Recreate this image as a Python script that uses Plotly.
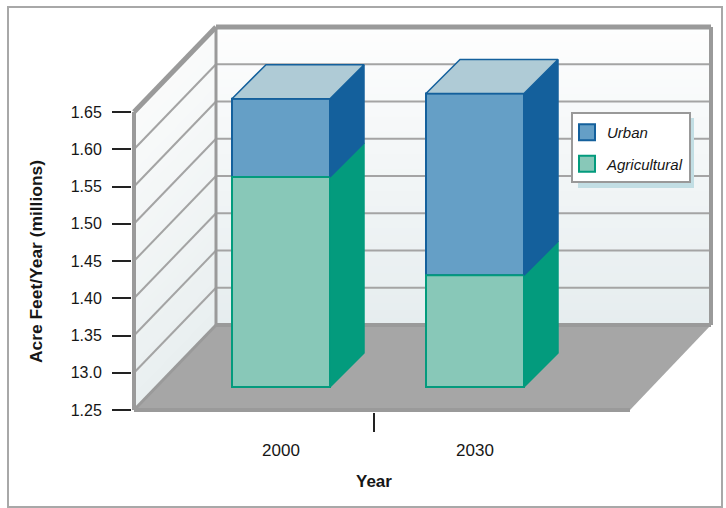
import plotly.graph_objects as go

# ---- data ----
years = ["2000", "2030"]
agricultural = [0.282, 0.150]   # height above the 1.25 baseline (millions)
urban = [0.105, 0.244]
tick_values = [1.25, 1.30, 1.35, 1.40, 1.45, 1.50, 1.55, 1.60, 1.65]
tick_labels = ["1.25", "13.0", "1.35", "1.40", "1.45", "1.50", "1.55", "1.60", "1.65"]

# ---- scales ----
W, H = 726, 508
PX, PY = 194.0, 745.0              # pixels per x unit, per y unit
L, B, T = 132, 412, 10
x_of = lambda p: (p - 281) / PX     # horizontal pixel to x unit (category 0 centre at 281)
y0 = 1.25
XMIN, XMAX = x_of(L), x_of(W)
YMIN, YMAX = y0 - 2 / PY, y0 + (410 - T) / PY

wall_x0, wall_x1 = x_of(134), x_of(216)
wall_right, floor_right = x_of(711), x_of(630)
wall_dy = 85 / PY
top = 1.65

bar_w = 98 / PX
bar_dx, bar_dy = 34 / PX, 34 / PY
lift = 23 / PY

C_GREY = "#9a9a9a"
C_GRID = "#a4a4a4"
C_FLOOR = "#a6a6a6"
URBAN_FILL, URBAN_DARK = "#659fc6", "#14609c"
AGRI_FILL, AGRI_DARK = "#88c8b8", "#039b7d"


def mix(t, a=(254, 254, 254), b=(230, 237, 239)):
    return "rgb(%d,%d,%d)" % tuple(round(a[i] + (b[i] - a[i]) * t) for i in range(3))


def poly(xs, ys, **kw):
    d = "M" + "L".join(f"{x:.5f},{y:.5f}" for x, y in zip(xs, ys)) + "Z"
    return dict(type="path", path=d, xref="x", yref="y", layer="below", **kw)


def seg(x1, y1, x2, y2, color=C_GRID, width=2):
    return dict(type="line", x0=x1, y0=y1, x1=x2, y1=y2, xref="x", yref="y",
                layer="below", line=dict(color=color, width=width))


def pxx(p):
    return (p - L) / (W - L)


def pxy(p):
    return (B - p) / (B - T)


shapes = []
# walls, as fine gradient bands
N = 40
span = top - y0
for i in range(N):
    a = y0 + span * i / N
    b = y0 + span * (i + 1.3) / N
    c = mix(1 - i / N)
    shapes.append(poly([wall_x1, wall_right, wall_right, wall_x1],
                       [a + wall_dy, a + wall_dy, min(b, top) + wall_dy, min(b, top) + wall_dy],
                       fillcolor=c, line=dict(width=0)))
    shapes.append(poly([wall_x0, wall_x1, wall_x1, wall_x0],
                       [a, a + wall_dy, min(b, top) + wall_dy, min(b, top)],
                       fillcolor=mix(1 - i / N, (250, 251, 251), (233, 239, 240)), line=dict(width=0)))
# floor
shapes.append(poly([wall_x0, wall_x1, wall_right, floor_right],
                   [y0, y0 + wall_dy, y0 + wall_dy, y0], fillcolor=C_FLOOR, line=dict(width=0)))
# grid lines
for v in tick_values[1:-1]:
    shapes.append(seg(wall_x0, v, wall_x1, v + wall_dy))
    shapes.append(seg(wall_x1, v + wall_dy, wall_right, v + wall_dy))
# frame of the box
shapes += [
    seg(wall_x0, y0, wall_x0, top, C_GREY, 4),
    seg(wall_x1, y0 + wall_dy, wall_x1, top + wall_dy, C_GREY, 3),
    seg(wall_x0, top, wall_x1, top + wall_dy, C_GREY, 5),
    seg(wall_x1, top + wall_dy, wall_right, top + wall_dy, C_GREY, 5),
    seg(wall_right, y0 + wall_dy, wall_right, top + wall_dy, C_GREY, 4),
    seg(wall_x0, y0, wall_x1, y0 + wall_dy, C_GREY, 3),
    seg(wall_x1, y0 + wall_dy, wall_right, y0 + wall_dy, C_GREY, 4),
    seg(wall_x0, y0, floor_right, y0, C_GREY, 4),
]
# outer frame of the picture, legend shadow and legend box
shapes.append(dict(type="rect", xref="paper", yref="paper",
                   x0=pxx(8), x1=pxx(722), y0=pxy(507), y1=pxy(7),
                   line=dict(color="#a8a8a8", width=2), layer="below"))
shapes.append(dict(type="rect", xref="paper", yref="paper",
                   x0=pxx(578), x1=pxx(694), y0=pxy(188), y1=pxy(118),
                   fillcolor="#c2dee4", line=dict(width=0), layer="above"))
shapes.append(dict(type="rect", xref="paper", yref="paper",
                   x0=pxx(572), x1=pxx(690), y0=pxy(182), y1=pxy(113),
                   fillcolor="white", line=dict(color="#999999", width=2), layer="above"))

fig = go.Figure()
xs = list(range(len(years)))
base_level = [y0 + lift for _ in xs]
agri_top = [b + a for b, a in zip(base_level, agricultural)]
urban_top = [a + u for a, u in zip(agri_top, urban)]

fig.add_bar(name="Urban", x=xs, y=urban, base=agri_top, width=bar_w, showlegend=False,
            legendgroup="Urban",
            marker=dict(color=URBAN_FILL, line=dict(color=URBAN_DARK, width=2)))
fig.add_bar(name="Agricultural", x=xs, y=agricultural, base=base_level, width=bar_w, showlegend=False,
            legendgroup="Agricultural",
            marker=dict(color=AGRI_FILL, line=dict(color=AGRI_DARK, width=2)))

# legend keys (the bar key has a fixed, smaller size)
for name, fill, dark in [("Urban", URBAN_FILL, URBAN_DARK), ("Agricultural", AGRI_FILL, AGRI_DARK)]:
    fig.add_scatter(name=name, x=[None], y=[None], mode="markers", legendgroup=name,
                    marker=dict(symbol="square", size=16, color=fill, line=dict(color=dark, width=2)))


def face(px, py, fill, line):
    fig.add_scatter(x=px, y=py, mode="lines", fill="toself", fillcolor=fill,
                    line=dict(color=line, width=1.5), showlegend=False, hoverinfo="skip")


for i in xs:
    xl, xr = i - bar_w / 2, i + bar_w / 2
    face([xr, xr + bar_dx, xr + bar_dx, xr, xr],
         [base_level[i], base_level[i] + bar_dy, agri_top[i] + bar_dy, agri_top[i], base_level[i]],
         AGRI_DARK, AGRI_DARK)
    face([xr, xr + bar_dx, xr + bar_dx, xr, xr],
         [agri_top[i], agri_top[i] + bar_dy, urban_top[i] + bar_dy, urban_top[i], agri_top[i]],
         URBAN_DARK, URBAN_DARK)
    face([xl, xl + bar_dx, xr + bar_dx, xr, xl],
         [urban_top[i], urban_top[i] + bar_dy, urban_top[i] + bar_dy, urban_top[i], urban_top[i]],
         "#afcbd6", URBAN_DARK)

FONT = "Liberation Sans, Arial, sans-serif"
INK = "#161616"
fig.update_layout(
    width=W, height=H, autosize=False,
    margin=dict(l=L, r=0, t=T, b=H - B, pad=0),
    paper_bgcolor="white", plot_bgcolor="white",
    barmode="overlay", showlegend=True, shapes=shapes,
    font=dict(family=FONT, color=INK, size=16),
    legend=dict(x=pxx(567), y=pxy(116), xanchor="left", yanchor="top",
                bgcolor="rgba(0,0,0,0)", borderwidth=0,
                font=dict(size=15, style="italic"), tracegroupgap=9, traceorder="grouped",
                itemclick=False, itemdoubleclick=False),
    xaxis=dict(range=[XMIN, XMAX], showgrid=False, zeroline=False, showline=False,
               tickmode="array", tickvals=xs, ticktext=years, ticks="",
               ticklabelstandoff=26, tickfont=dict(size=17),
               minor=dict(ticks="outside", tickmode="array", tickvals=[x_of(374)], ticklen=19,
                          tickwidth=2, tickcolor="#222222", showgrid=False)),
    yaxis=dict(range=[YMIN, YMAX], showgrid=False, zeroline=False, showline=False,
               tickmode="array", tickvals=tick_values, ticktext=tick_labels,
               ticks="outside", ticklen=19, tickwidth=2, tickcolor="#222222",
               ticklabelstandoff=7, tickfont=dict(size=16)),
    annotations=[
        dict(text="<b>Acre Feet/Year (millions)</b>", xref="paper", yref="paper",
             x=pxx(36), y=pxy(261), xanchor="center", yanchor="middle",
             textangle=-90, showarrow=False, font=dict(size=17.4)),
        dict(text="<b>Year</b>", xref="paper", yref="paper",
             x=pxx(374), y=pxy(481), xanchor="center", yanchor="middle",
             showarrow=False, font=dict(size=17)),
    ],
)
fig.write_html("out.html", config={"displayModeBar": False},
               post_script="document.body.style.margin='0';")
